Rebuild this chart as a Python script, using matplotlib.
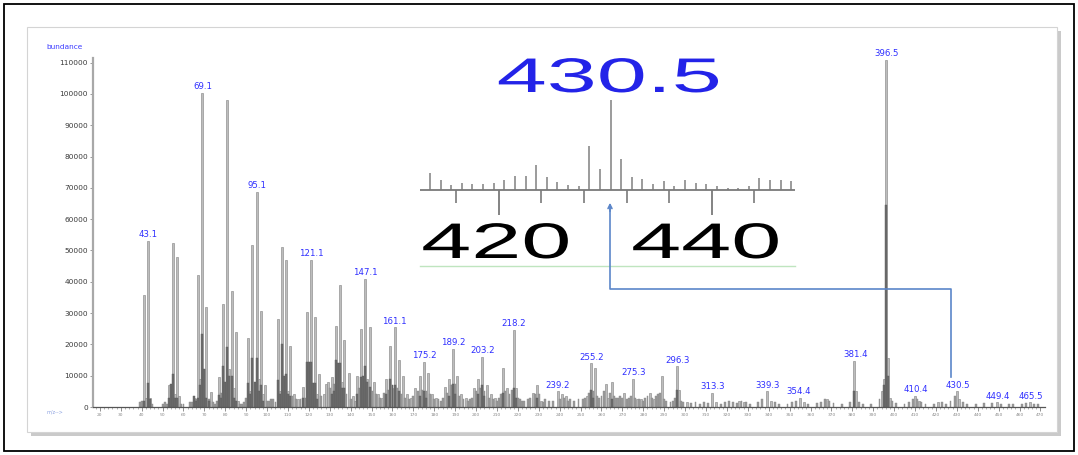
import matplotlib
matplotlib.use("Agg")
import matplotlib.pyplot as plt
from matplotlib import patheffects
from matplotlib.patches import Rectangle, FancyArrowPatch
from matplotlib.lines import Line2D
from matplotlib.transforms import Affine2D

W, H = 1078, 455

# main spectrum, light grey bars (m/z, abundance)
light_mz = [41, 42, 43, 44, 53, 55, 56, 57, 58, 65, 67, 68, 69, 70, 71, 73, 77, 79, 80, 81,
            82, 83, 84, 85, 86, 91, 92, 93, 94, 95, 96, 97, 98, 99, 105, 106, 107, 108, 109, 110,
            111, 113, 115, 117, 119, 120, 121, 122, 123, 124, 125, 127, 128, 129, 131, 133, 134, 135, 136, 137,
            139, 141, 142, 143, 145, 146, 147, 148, 149, 151, 153, 155, 157, 159, 160, 161, 163, 165, 167, 169,
            171, 173, 175, 177, 179, 181, 185, 187, 189, 191, 193, 195, 199, 201, 203, 205, 207, 209, 213, 215,
            218, 219, 227, 229, 231, 239, 241, 243, 253, 255, 257, 262, 263, 265, 271, 275, 277, 279, 283, 285,
            289, 296, 297, 301, 313, 315, 326, 328, 339, 341, 355, 357, 368, 381, 382, 394, 395, 396, 397, 398,
            410, 412, 421, 430, 431, 449, 465]
light_int = [35800, 3000, 53100, 3000, 7000, 52500, 4000, 47900, 3500, 3000, 42200, 9000, 100300, 12000, 32000, 4800, 9500, 33000, 6000, 98100,
             12000, 37000, 6000, 24000, 2000, 22000, 5000, 51800, 8000, 68800, 9000, 30800, 4000, 7000, 28000, 5000, 51000, 8000, 47000, 5000,
             19500, 4000, 2500, 6500, 30500, 6000, 47000, 7000, 28800, 4000, 10500, 4000, 7500, 8000, 9500, 26000, 12000, 39000, 8000, 21500,
             11000, 3500, 2000, 10000, 25000, 8000, 41000, 9000, 25500, 8000, 4000, 3000, 9000, 19500, 6000, 25500, 15000, 10000, 4000, 3000,
             6000, 10000, 14500, 11000, 4000, 3000, 6500, 9000, 18500, 10000, 4000, 3000, 6000, 9000, 16000, 7000, 4000, 3000, 12500, 6000,
             24600, 6000, 4500, 7000, 2000, 5000, 4000, 3500, 3500, 14000, 12500, 7500, 3000, 8000, 4500, 9000, 2500, 2500, 4500, 2500,
             10000, 13000, 5500, 1500, 4500, 1500, 2000, 1500, 5000, 2000, 3000, 1500, 2500, 14700, 5000, 5000, 9000, 111000, 15600, 3000,
             3500, 2000, 1500, 5000, 2500, 1500, 1500]

# small baseline peaks between the main ones
base_mz = [39, 40, 45, 50, 51, 52, 59, 60, 63, 64, 66, 72, 74, 75, 76, 78, 87, 88, 89, 90,
           100, 101, 102, 103, 104, 112, 114, 116, 118, 126, 130, 132, 138, 140, 144, 150, 152, 154, 156, 158,
           162, 164, 166, 168, 170, 172, 174, 176, 178, 180, 182, 183, 184, 186, 188, 190, 192, 194, 196, 197,
           198, 200, 202, 204, 206, 208, 210, 211, 212, 214, 216, 217, 220, 221, 222, 223, 225, 226, 228, 230,
           232, 233, 235, 237, 240, 242, 244, 245, 247, 249, 251, 252, 254, 256, 258, 259, 260, 261, 264, 266,
           267, 268, 269, 270, 272, 273, 274, 276, 278, 280, 281, 282, 284, 286, 287, 288, 290, 291, 293, 294,
           295, 298, 299, 303, 305, 307, 309, 311, 317, 319, 321, 323, 325, 327, 329, 331, 335, 337, 343, 345,
           349, 351, 353, 359, 363, 365, 367, 369, 371, 375, 379, 383, 385, 389, 393, 399, 401, 405, 407, 409,
           411, 413, 415, 419, 423, 425, 427, 429, 433, 435, 439, 443, 447, 451, 455, 457, 461, 463, 467, 469]
base_int = [1500, 2000, 1000, 1000, 1500, 1000, 1000, 1000, 1500, 1500, 2500, 2500, 1500, 1000, 2000, 4500, 1000, 1000, 1500, 3000,
            2000, 2000, 2500, 2500, 1500, 3500, 2500, 2500, 3000, 3500, 6000, 7500, 4000, 2500, 6000, 5000, 4000, 3000, 4500, 5500,
            6000, 4000, 3000, 2500, 3500, 5000, 5500, 5000, 4000, 2500, 2500, 2000, 3000, 4500, 7000, 7500, 3500, 2500, 2000, 2500,
            3000, 5000, 6000, 5000, 3000, 2500, 2000, 3000, 4000, 5000, 4000, 5500, 3000, 2500, 2000, 2000, 2500, 3000, 4000, 4000,
            1500, 2500, 2000, 2000, 2500, 3000, 2000, 2500, 2000, 2500, 2500, 3000, 4500, 5000, 3500, 3000, 3500, 5000, 4500, 3500,
            3000, 3000, 3500, 3000, 2500, 3000, 3500, 3000, 2500, 2000, 3000, 3500, 3000, 3500, 4000, 4500, 2500, 2000, 1500, 2000,
            3000, 2000, 1500, 1200, 1500, 1000, 1500, 1200, 1000, 1500, 1800, 1500, 1200, 2000, 1500, 1000, 1500, 2500, 1500, 1000,
            1000, 1500, 2000, 1000, 1200, 1500, 2500, 1800, 1200, 1000, 1500, 1500, 1000, 1000, 2500, 1800, 1200, 1000, 1500, 2500,
            2500, 1500, 1000, 1000, 1500, 1000, 2000, 3500, 1500, 1000, 1000, 1200, 1200, 1000, 1000, 1000, 1000, 1200, 1000, 1000]

# second, dark grey spectrum drawn over the first
dark_mz = [41, 43, 44, 53, 54, 55, 56, 57, 65, 66, 67, 68, 69, 70, 71, 72, 77, 78, 79, 80,
           81, 82, 83, 84, 85, 91, 92, 93, 94, 95, 96, 97, 98, 105, 106, 107, 108, 109, 110, 111,
           117, 119, 120, 121, 122, 123, 124, 131, 132, 133, 134, 135, 136, 137, 143, 145, 146, 147, 148, 149,
           157, 159, 160, 161, 163, 173, 175, 176, 187, 189, 190, 201, 203, 204, 213, 218, 219, 229, 255, 256,
           265, 296, 381, 395, 396, 397]
dark_int = [2000, 7700, 2500, 3000, 7500, 10500, 3000, 3000, 3500, 2000, 3000, 7000, 23200, 12000, 3000, 2000, 3800, 3000, 13000, 8000,
            19300, 10000, 10000, 3000, 2000, 7700, 4000, 15800, 8000, 15500, 5000, 7000, 2000, 8500, 4000, 20000, 10000, 10500, 4000, 3500,
            3000, 14500, 14500, 14500, 7800, 7800, 2500, 4000, 5000, 15000, 14000, 14000, 6000, 6000, 4000, 9500, 10000, 13000, 8000, 6500,
            4000, 9000, 7000, 7000, 5000, 3500, 5000, 3000, 3500, 7500, 4000, 4000, 7000, 3500, 4500, 6000, 3000, 3000, 5500, 3000,
            2500, 5500, 5000, 7000, 64500, 10000]

peak_labels = ["43.1", "69.1", "95.1", "121.1", "147.1", "161.1", "175.2", "189.2", "203.2", "218.2",
               "239.2", "255.2", "275.3", "296.3", "313.3", "339.3", "354.4", "381.4", "396.5", "410.4",
               "430.5", "449.4", "465.5"]

# zoomed view around the 430.5 ion (relative heights)
inset_mz = [413.5, 414.5, 415.5, 416.5, 417.5, 418.5, 419.5, 420.5, 421.5, 422.5, 423.5, 424.5,
            425.5, 426.5, 427.5, 428.5, 429.5, 430.5, 431.5, 432.5, 433.5, 434.5, 435.5, 436.5,
            437.5, 438.5, 439.5, 440.5, 441.5, 442.5, 443.5, 444.5, 445.5, 446.5, 447.5]
inset_rel = [19, 11, 6, 8, 7, 7, 8, 11, 16, 16, 28, 14,
             9, 6, 4, 49, 23, 100, 35, 15, 12, 7, 10, 4,
             11, 8, 7, 4, 2, 2, 4, 13, 11, 11, 10]
inset_ticks = [416, 420, 424, 428, 432, 436, 440, 444]
inset_major = [420, 440]


def fx(x):
    return x / W


def fy(y):
    return 1 - y / H


class Stretch(patheffects.AbstractPathEffect):
    # widen the glyphs like the screenshot does
    def __init__(self, sx):
        super().__init__()
        self.sx = sx

    def draw_path(self, renderer, gc, tpath, affine, rgbFace=None):
        ext = tpath.get_extents(affine)
        cx = (ext.x0 + ext.x1) / 2
        a = affine + Affine2D().translate(-cx, 0).scale(self.sx, 1).translate(cx, 0)
        renderer.draw_path(gc, tpath, a, rgbFace)


fig = plt.figure(figsize=(W / 100, H / 100), dpi=100)
fig.patch.set_facecolor("white")

# framed panel with shadow
fig.add_artist(Rectangle((fx(31), fy(436)), 1030 / W, 405 / H, transform=fig.transFigure,
                         facecolor="#cacaca", edgecolor="none", zorder=-3))
fig.add_artist(Rectangle((fx(27), fy(432)), 1030 / W, 405 / H, transform=fig.transFigure,
                         facecolor="white", edgecolor="#d4d4d4", lw=0.8, zorder=-2))
fig.add_artist(Rectangle((fx(4), fy(451)), 1070 / W, 447 / H, transform=fig.transFigure,
                         fill=False, edgecolor="black", lw=1.3, zorder=10))

ax = fig.add_axes([fx(93), fy(407), fx(1045) - fx(93), fy(58) - fy(407)])
ax.set_facecolor("none")
ax.set_xlim(16.7, 472.2)
ax.set_ylim(0, 111500)

ax.bar(light_mz, light_int, width=0.95, color="#bdbdbd", edgecolor="#8a8a8a", linewidth=0.45, zorder=2)
ax.bar(base_mz, base_int, width=0.9, color="#9a9a9a", edgecolor="#8a8a8a", linewidth=0.3, zorder=2)
ax.bar(dark_mz, dark_int, width=0.95, color="#6c6c6c", edgecolor="#5a5a5a", linewidth=0.3, zorder=3)

for lab in peak_labels:
    m = float(lab)
    top = max(v for mm, v in zip(light_mz, light_int) if abs(mm - m) <= 1.0)
    ax.annotate(lab, (m, top), xytext=(0, 1.2), textcoords="offset points",
                ha="center", va="bottom", fontsize=6.2, color="#2f2fff", zorder=5)

for s in ["top", "right"]:
    ax.spines[s].set_visible(False)
ax.spines["left"].set_color("#a8a8a8")
ax.spines["left"].set_linewidth(1.6)
ax.spines["bottom"].set_color("#555555")
ax.spines["bottom"].set_linewidth(0.9)

ax.set_yticks(range(0, 110001, 10000))
ax.tick_params(axis="y", labelsize=5.3, labelcolor="#3a3a3a", length=2.5, width=0.6, color="#888888", pad=1)
ax.set_xticks(range(20, 471, 10))
ax.set_xticks(range(18, 472, 2), minor=True)
ax.tick_params(axis="x", which="major", labelsize=3.2, labelcolor="#8a8a8a", length=3, width=0.5,
               color="#666666", pad=1.5)
ax.tick_params(axis="x", which="minor", length=1.6, width=0.4, color="#777777")

fig.text(fx(46), fy(47), "bundance", fontsize=5.3, color="#3a3aff", va="center", ha="left")
fig.text(fx(47), fy(412), "m/z-->", fontsize=3.5, color="#8aa0e0", va="center", ha="left")

# inset
ins = fig.add_axes([fx(420), fy(270), fx(795) - fx(420), fy(95) - fy(270)])
ins.axis("off")
ins.set_xlim(412.57, 447.85)
ins.set_ylim(-80 / 0.9, 95 / 0.9)
ins.vlines(inset_mz, 0, inset_rel, color="#8a8a8a", lw=1.2)
ins.axhline(0, color="#7a7a7a", lw=1.3)
ins.vlines([t for t in inset_ticks if t not in inset_major], 0, -14, color="#7a7a7a", lw=1.2)
ins.vlines(inset_major, 0, -28, color="#7a7a7a", lw=1.3)

fig.text(fx(609), fy(92), "430.5", fontsize=35, color="#2323e8", ha="center", va="baseline",
         family="Liberation Sans", path_effects=[Stretch(1.85)])
fig.text(fx(496), fy(258), "420", fontsize=36, color="black", ha="center", va="baseline",
         family="Liberation Sans", path_effects=[Stretch(1.8)])
fig.text(fx(706), fy(258), "440", fontsize=36, color="black", ha="center", va="baseline",
         family="Liberation Sans", path_effects=[Stretch(1.8)])

fig.add_artist(Line2D([fx(420), fx(795)], [fy(266), fy(266)], transform=fig.transFigure,
                      color="#bfe5bf", lw=1.0))

blue = "#5b86c9"
fig.add_artist(Line2D([fx(610), fx(610), fx(951), fx(951)], [fy(206), fy(289), fy(289), fy(377)],
                      transform=fig.transFigure, color=blue, lw=1.2))
fig.add_artist(FancyArrowPatch((fx(610), fy(214)), (fx(610), fy(200)), transform=fig.transFigure,
                               arrowstyle="->", mutation_scale=7, color=blue, lw=1.2))

fig.savefig("out.png", dpi=100)
